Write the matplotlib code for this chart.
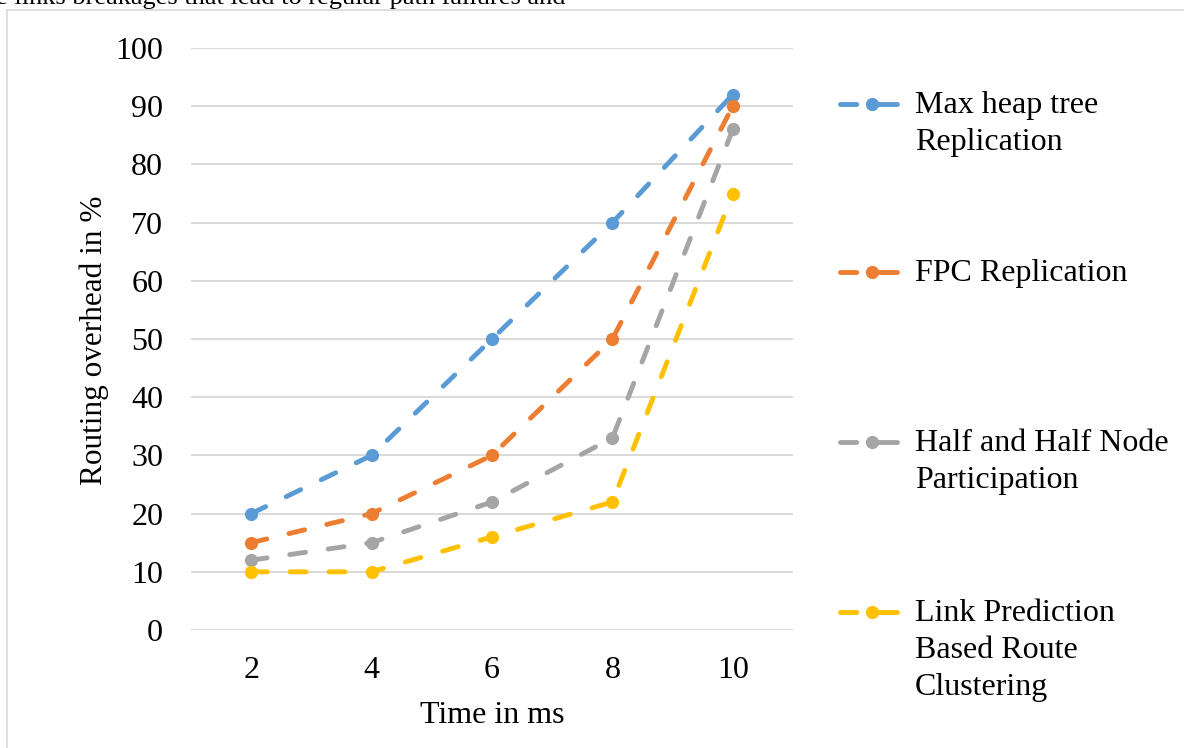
import numpy as np
import matplotlib
matplotlib.use("Agg")
import matplotlib.pyplot as plt
from matplotlib.lines import Line2D

# ---------------- data ----------------
time_ms = ["2", "4", "6", "8", "10"]
y_ticks = [0, 10, 20, 30, 40, 50, 60, 70, 80, 90, 100]
max_heap = [20, 30, 50, 70, 92]
fpc = [15, 20, 30, 50, 90]
half_half = [12, 15, 22, 33, 86]
link_pred = [10, 10, 16, 22, 75]
series_names = ["Max heap tree\nReplication", "FPC Replication",
                "Half and Half Node\nParticipation",
                "Link Prediction\nBased Route\nClustering"]
series_values = [max_heap, fpc, half_half, link_pred]
colors = ["#5B9BD5", "#ED7D31", "#A5A5A5", "#FFC000"]
x_label = "Time in ms"
y_label = "Routing overhead in %"
top_text = "e links breakages that lead to regular path failures and"

plt.rcParams["font.family"] = ["Liberation Serif", "DejaVu Serif"]
FS = 23
W, H = 1184, 748
fig = plt.figure(figsize=(W / 100, H / 100), dpi=100)


def fx(px):
    return px / W


def fy(py):
    return 1 - py / H


ax = fig.add_axes([fx(191), fy(630), fx(602), 582 / H])
x_idx = np.arange(len(time_ms))
LW = 3.5
MS = 9.5
dash = (0, (3.3, 4.7))
for vals, col in zip(series_values, colors):
    ax.plot(x_idx, vals, color=col, lw=LW, linestyle=dash,
            dash_capstyle="round", solid_capstyle="round", zorder=3)
    ax.plot(x_idx, vals, linestyle="none", marker="o", ms=MS,
            color=col, markeredgewidth=0, zorder=4)

ax.set_xlim(-0.5, len(time_ms) - 0.5)
ax.set_ylim(0, 100)
ax.set_xticks(x_idx)
ax.set_xticklabels(time_ms, fontsize=FS)
ax.set_yticks(y_ticks)
ax.set_yticklabels([str(v) for v in y_ticks], fontsize=FS)
ax.tick_params(axis="both", length=0)
ax.tick_params(axis="y", pad=20)
ax.tick_params(axis="x", pad=19)
for s in ax.spines.values():
    s.set_visible(False)
ax.yaxis.grid(True, color="#D9D9D9", lw=1.4)
ax.set_axisbelow(True)

# axis titles
fig.text(fx(492), fy(723), x_label, fontsize=FS, ha="center", va="baseline")
fig.text(fx(102), fy(340), y_label, fontsize=22.5, ha="center", va="baseline",
         rotation=90, rotation_mode="anchor")

# legend (Excel-style: entries evenly spaced by their first line)
base_y = [113.5, 281.5, 451.5, 621.5]
LINE_STEP = 36.5
for name, col, by in zip(series_names, colors, base_y):
    hy = by - 10
    fig.add_artist(Line2D([fx(839.5), fx(896.5)], [fy(hy), fy(hy)], color=col, lw=LW,
                          linestyle=(0, (3.35, 2.4, 5.97, 10)),
                          dash_capstyle="round", solid_capstyle="round"))
    fig.add_artist(Line2D([fx(872)], [fy(hy)], color=col, marker="o", ms=MS,
                          markeredgewidth=0, linestyle="none"))
    n_lines = name.count("\n") + 1
    fig.text(fx(915), fy(by + (n_lines - 1) * LINE_STEP), name, fontsize=FS,
             ha="left", va="baseline", linespacing=1.36)

# chart frame and cropped body text above it
fig.add_artist(Line2D([fx(6.5), fx(6.5)], [fy(9.5), -0.1], color="#D9D9D9", lw=1.2))
fig.add_artist(Line2D([fx(6.5), 1.1], [fy(9.5), fy(9.5)], color="#D9D9D9", lw=1.2))
fig.text(fx(566), fy(4), top_text, fontsize=19, ha="right", va="baseline")

fig.savefig("out.png", dpi=100)
